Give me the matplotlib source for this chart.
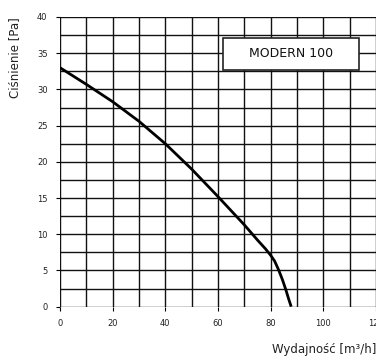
import matplotlib
matplotlib.use("Agg")
import matplotlib.pyplot as plt
from matplotlib.patches import Rectangle
import numpy as np

flow = [0, 10, 20, 30, 40, 50, 60, 70, 75, 78, 80, 81.5, 83, 84.5, 85.8, 86.8, 87.8]
pressure = [33, 30.7, 28.3, 25.6, 22.5, 19.0, 15.2, 11.3, 9.2, 8.0, 7.1, 6.3, 5.1, 3.7, 2.3, 1.1, 0]
x_ticks = [0, 20, 40, 60, 80, 100, 120]
y_ticks = [0, 5, 10, 15, 20, 25, 30, 35, 40]
title = "MODERN 100"

fig = plt.figure(figsize=(3.76, 3.6), dpi=100)
ax = fig.add_axes([60/376, 1-306.7/360, 316/376, (306.7-17)/360])
ax.set_xlim(0, 120)
ax.set_ylim(0, 40)

for xv in np.arange(0, 121, 10):
    ax.axvline(xv, color="#111111", lw=1.0, zorder=1)
for yv in np.arange(0, 40.1, 2.5):
    ax.axhline(yv, color="#111111", lw=1.0, zorder=1)

ax.plot(flow, pressure, color="black", lw=2.0, zorder=3, solid_capstyle="butt", solid_joinstyle="round")

ax.add_patch(Rectangle((62, 32.7), 51.5, 4.4, facecolor="white", edgecolor="#222222", lw=1.2, zorder=4))
ax.text(87.75, 34.9, title, ha="center", va="center", fontsize=9, family="DejaVu Sans", zorder=5, color="#111111")

ax.set_xticks(x_ticks)
ax.set_yticks(y_ticks)
ax.tick_params(labelsize=6, length=3, width=0.8, color="black", labelcolor="#222222", pad=6)
for s in ax.spines.values():
    s.set_visible(False)

fig.text(15/376, 1-17/360, "Ciśnienie [Pa]", rotation=90, ha="center", va="top", fontsize=8.5, color="#222222")
fig.text(376/376, 1-350/360, "Wydajność [m³/h]", ha="right", va="center", fontsize=8.5, color="#222222")

fig.savefig("out.png", dpi=100)
